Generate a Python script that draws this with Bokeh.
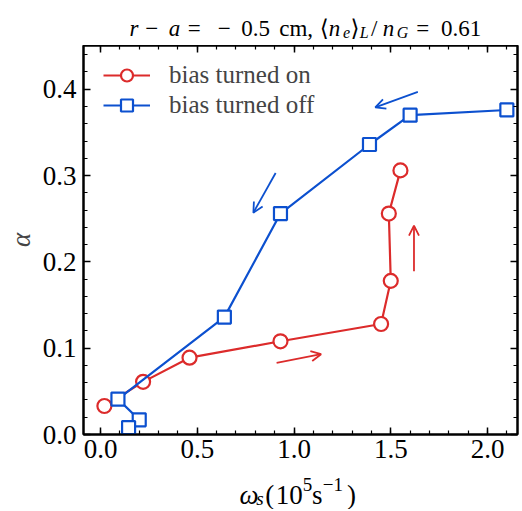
from bokeh.plotting import figure
from bokeh.layouts import column
from bokeh.models import (Range1d, SingleIntervalTicker, LinearAxis, PrintfTickFormatter,
                          Legend, LegendItem, Label, Arrow, OpenHead)
from bokeh.embed import file_html
from bokeh.resources import INLINE

# ---- data ----
on_x = [0.02, 0.22, 0.46, 0.93, 1.45, 1.50, 1.49, 1.55]
on_y = [0.033, 0.061, 0.089, 0.108, 0.128, 0.178, 0.256, 0.306]
off_x = [2.10, 1.60, 1.39, 0.93, 0.64, 0.09, 0.20, 0.145]
off_y = [0.376, 0.370, 0.336, 0.256, 0.136, 0.041, 0.017, 0.008]
series_names = ["bias turned on", "bias turned off"]

# arrows (data coords): start x, start y, end x, end y
arrow_red = [(0.91, 0.083, 1.14, 0.093), (1.62, 0.189, 1.62, 0.242)]
arrow_blue = [(1.64, 0.397, 1.42, 0.379), (0.905, 0.303, 0.79, 0.257)]

RED = "#dc2b2b"
BLUE = "#0c50cf"
FONT = "'Liberation Serif', 'DejaVu Serif', serif"

W = 520
TITLE_H, MAIN_H, XLAB_H = 45, 430, 34


def text_fig(h):
    f = figure(width=W, height=h, output_backend="svg", toolbar_location=None,
               x_axis_type=None, y_axis_type=None, min_border=0,
               x_range=Range1d(0, W), y_range=Range1d(0, h))
    f.outline_line_color = None
    f.xgrid.visible = False
    f.ygrid.visible = False
    f.background_fill_color = "white"
    f.border_fill_color = "white"
    return f


def piece(f, txt, x, y, size, italic=False):
    f.add_layout(Label(x=x, y=y, x_units="screen", y_units="screen", text=txt,
                       text_font=FONT, text_font_size=f"{size}px",
                       text_font_style="italic" if italic else "normal",
                       text_color="black", text_align="left", text_baseline="alphabetic"))


# ---- main plot ----
p = figure(width=W, height=MAIN_H, output_backend="svg", toolbar_location=None,
           x_range=Range1d(-0.088, 2.155), y_range=Range1d(0.0, 0.4507),
           min_border_left=83, min_border_right=3, min_border_top=0, min_border_bottom=41)
p.background_fill_color = "white"
p.border_fill_color = "white"
p.outline_line_color = "black"
p.outline_line_width = 2
p.xgrid.visible = False
p.ygrid.visible = False

fmt = PrintfTickFormatter(format="%.1f")


def style_axis(ax, labels=True):
    ax.axis_line_color = "black"
    ax.axis_line_width = 2
    ax.major_tick_in = 7
    ax.major_tick_out = 0
    ax.minor_tick_in = 4
    ax.minor_tick_out = 0
    ax.major_tick_line_width = 1.5
    ax.minor_tick_line_width = 1.2
    ax.major_tick_line_color = "black"
    ax.minor_tick_line_color = "black"
    if labels:
        ax.major_label_text_font = FONT
        ax.major_label_text_font_size = "27px"
        ax.major_label_text_color = "black"
    else:
        ax.major_label_text_font_size = "0px"
        ax.major_label_text_color = None
        ax.major_label_standoff = 0


p.xaxis.ticker = SingleIntervalTicker(interval=0.5, num_minor_ticks=5)
p.yaxis.ticker = SingleIntervalTicker(interval=0.1, num_minor_ticks=5)
p.xaxis.formatter = fmt
p.yaxis.formatter = fmt
style_axis(p.xaxis[0])
style_axis(p.yaxis[0])
p.xaxis.major_label_standoff = 5
p.yaxis.major_label_standoff = 7
p.yaxis.axis_label = "\u03b1"
p.yaxis.axis_label_text_font = FONT
p.yaxis.axis_label_text_font_size = "27px"
p.yaxis.axis_label_text_font_style = "italic"
p.yaxis.axis_label_standoff = 4

top_ax = LinearAxis(ticker=SingleIntervalTicker(interval=0.5, num_minor_ticks=5))
right_ax = LinearAxis(ticker=SingleIntervalTicker(interval=0.1, num_minor_ticks=5))
style_axis(top_ax, labels=False)
style_axis(right_ax, labels=False)
p.add_layout(top_ax, "above")
p.add_layout(right_ax, "right")

l1 = p.line(on_x, on_y, line_color=RED, line_width=2.2)
s1 = p.scatter(on_x, on_y, marker="circle", size=14, line_color=RED, line_width=2.2,
               fill_color="white")
l2 = p.line(off_x, off_y, line_color=BLUE, line_width=2.2)
s2 = p.scatter(off_x, off_y, marker="square", size=13, line_color=BLUE, line_width=2.2,
               fill_color="white")

for (xs, ys, xe, ye) in arrow_red:
    p.add_layout(Arrow(x_start=xs, y_start=ys, x_end=xe, y_end=ye, line_color=RED,
                       line_width=1.8, end=OpenHead(size=10, line_color=RED, line_width=1.8)))
for (xs, ys, xe, ye) in arrow_blue:
    p.add_layout(Arrow(x_start=xs, y_start=ys, x_end=xe, y_end=ye, line_color=BLUE,
                       line_width=1.8, end=OpenHead(size=10, line_color=BLUE, line_width=1.8)))

legend = Legend(items=[LegendItem(label=series_names[0], renderers=[l1, s1]),
                       LegendItem(label=series_names[1], renderers=[l2, s2])],
                location=(20, 314), margin=0, padding=0,
                glyph_width=47, glyph_height=30, label_height=30, spacing=0,
                label_standoff=19, label_text_font=FONT, label_text_font_size="25px",
                border_line_color=None, background_fill_alpha=0)
p.add_layout(legend, "center")

# ---- title: r − a = − 0.5 cm, ⟨n_e⟩_L/n_G = 0.61 ----
tf = text_fig(TITLE_H)
ts = 23.5
tx0 = 46
tyb = 17
title_parts = [("r", 0.0, True, 0), ("\u2212", 0.673, False, 0), ("a", 1.673, True, 0),
               ("=", 2.48, False, 0), ("\u2212", 3.758, False, 0), ("0.5", 4.758, False, 0),
               ("cm,", 6.369, False, 0), ("\u27e8", 8.091, False, 0), ("n", 8.48, True, 0),
               ("e", 9.08, True, -1), ("\u27e9", 9.406, False, 0), ("L", 9.795, True, -1),
               ("/", 10.272, False, 0), ("n", 10.772, True, 0), ("G", 11.372, True, -1),
               ("=", 12.2, False, 0), ("0.61", 13.256, False, 0)]
for txt, em, it, lvl in title_parts:
    if lvl == -1:
        piece(tf, txt, tx0 + em * ts, tyb - 4, 16, italic=it)
    else:
        piece(tf, txt, tx0 + em * ts, tyb, 23, italic=it)

# ---- x label: ω_s(10^5 s^-1) ----
xf = text_fig(XLAB_H)
xs_ = 27
xx0 = 156
xyb = 15
xlabel_parts = [("\u03c9", 0.0, True, 0), ("s", 0.622, True, -1), ("(", 0.95, False, 0),
                ("10", 1.339, False, 0), ("5", 2.339, False, 1), ("s", 2.689, False, 0),
                ("\u22121", 3.083, False, 1), (")", 3.978, False, 0)]
for txt, em, it, lvl in xlabel_parts:
    if lvl == -1:
        piece(xf, txt, xx0 + em * xs_, xyb - 4, 19, italic=it)
    elif lvl == 1:
        piece(xf, txt, xx0 + em * xs_, xyb + 10, 19, italic=it)
    else:
        piece(xf, txt, xx0 + em * xs_, xyb, 27, italic=it)

layout = column(tf, p, xf, spacing=0)
open("out.html", "w").write(file_html(layout, INLINE))
